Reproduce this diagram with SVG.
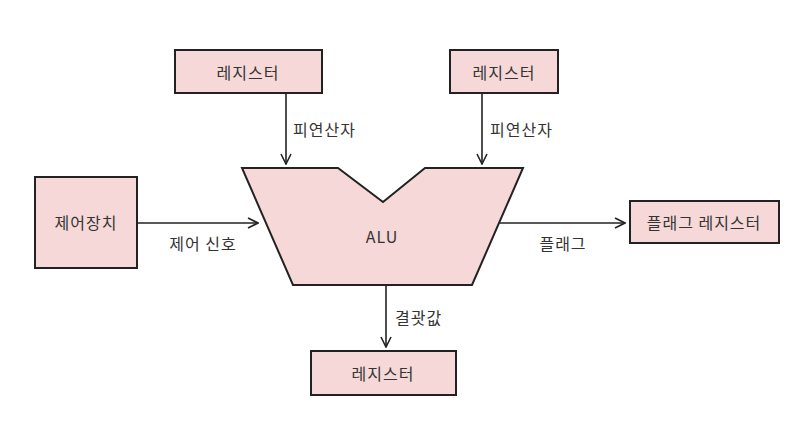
<svg xmlns="http://www.w3.org/2000/svg" width="802" height="445" viewBox="0 0 802 445">
<defs>
<style>
.box{fill:#f6d8d8;stroke:#222;stroke-width:2}
.t{font-family:"Noto Sans CJK KR","Noto Sans",sans-serif;font-size:16px;letter-spacing:1px;fill:#333}
.c{text-anchor:middle;dominant-baseline:central}
.ln{stroke:#222;stroke-width:1.6;fill:none}
</style>
<marker id="ah" viewBox="0 0 12 12" refX="11" refY="6" markerWidth="12" markerHeight="12" markerUnits="userSpaceOnUse" orient="auto">
<path d="M1,1 L11,6 L1,11" fill="none" stroke="#222" stroke-width="1.6"/>
</marker>
</defs>
<rect width="802" height="445" fill="#fff"/>
<g id="connectors">
<line class="ln" x1="286" y1="93" x2="286" y2="164" marker-end="url(#ah)"/>
<line class="ln" x1="482" y1="93" x2="482" y2="164" marker-end="url(#ah)"/>
<line class="ln" x1="137" y1="223" x2="258" y2="223" marker-end="url(#ah)"/>
<line class="ln" x1="500" y1="223" x2="625" y2="223" marker-end="url(#ah)"/>
<line class="ln" x1="386" y1="286" x2="386" y2="347" marker-end="url(#ah)"/>
<text class="t" x="293" y="129" dominant-baseline="central">피연산자</text>
<text class="t" x="490" y="129" dominant-baseline="central">피연산자</text>
<text class="t c" x="203" y="243">제어 신호</text>
<text class="t c" x="563" y="243">플래그</text>
<text class="t" x="395" y="317" dominant-baseline="central">결괏값</text>
</g>
<g id="reg1"><rect class="box" x="175" y="50" width="147" height="43"/><text class="t c" x="248" y="72">레지스터</text></g>
<g id="reg2"><rect class="box" x="450" y="50" width="108" height="43"/><text class="t c" x="504" y="72">레지스터</text></g>
<g id="control"><rect class="box" x="35" y="177" width="102" height="91"/><text class="t c" x="86" y="222">제어장치</text></g>
<g id="alu"><path class="box" d="M242,168 L338,168 L383,202 L425,168 L523,168 L472,285 L293,285 Z"/><text class="t c" x="382" y="236">ALU</text></g>
<g id="flagreg"><rect class="box" x="630" y="201" width="149" height="42"/><text class="t c" x="704" y="222">플래그 레지스터</text></g>
<g id="reg3"><rect class="box" x="311" y="351" width="145" height="44"/><text class="t c" x="383" y="373">레지스터</text></g>
</svg>
